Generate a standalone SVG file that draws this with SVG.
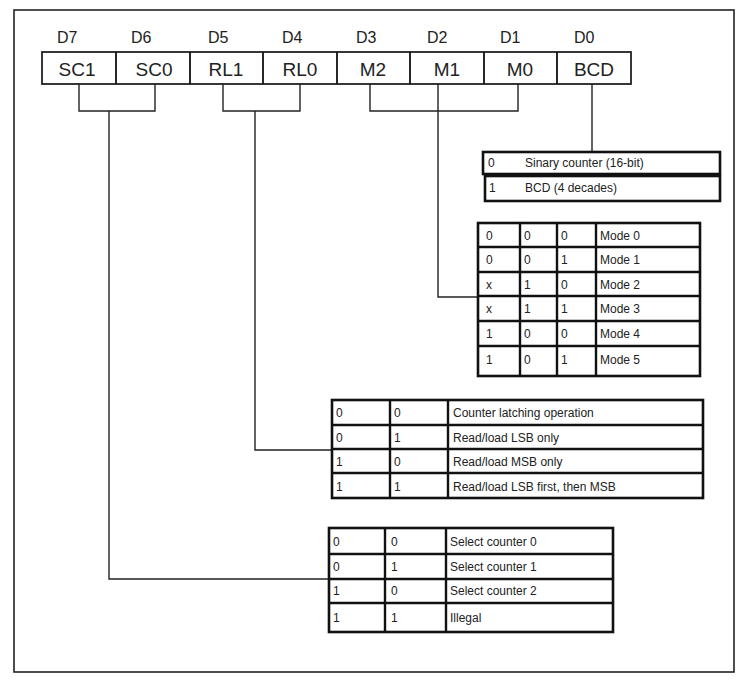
<svg xmlns="http://www.w3.org/2000/svg" width="744" height="681" viewBox="0 0 744 681">
<style>
.frame{fill:none;stroke:#222;stroke-width:1.6}
.cell{fill:#fff;stroke:#222;stroke-width:1.8}
.tb{fill:#fff;stroke:#111;stroke-width:2.6}
.tl{stroke:#111;stroke-width:2.4;fill:none}
.con{fill:none;stroke:#222;stroke-width:1.4}
.bit{font-family:"Liberation Sans",Arial,sans-serif;font-size:16px;fill:#222}
.name{font-family:"Liberation Sans",Arial,sans-serif;font-size:19px;fill:#222;text-anchor:middle}
.t{font-family:"Liberation Sans",Arial,sans-serif;font-size:12px;fill:#222}
</style>
<rect width="744" height="681" fill="#fff"/>
<rect class="frame" x="14" y="10" width="720" height="662"/>

<g id="register">
  <rect class="cell" x="42" y="52" width="589" height="32"/>
  <path class="tl" style="stroke-width:1.8" d="M116,52V84M190,52V84M263,52V84M337,52V84M410,52V84M484,52V84M557,52V84"/>
  <text class="bit" x="57" y="43">D7</text>
  <text class="bit" x="131" y="43">D6</text>
  <text class="bit" x="208" y="43">D5</text>
  <text class="bit" x="282" y="43">D4</text>
  <text class="bit" x="356" y="43">D3</text>
  <text class="bit" x="427" y="43">D2</text>
  <text class="bit" x="500" y="43">D1</text>
  <text class="bit" x="574" y="43">D0</text>
  <text class="name" x="77" y="76">SC1</text>
  <text class="name" x="154" y="76">SC0</text>
  <text class="name" x="226" y="76">RL1</text>
  <text class="name" x="300" y="76">RL0</text>
  <text class="name" x="373" y="76">M2</text>
  <text class="name" x="447" y="76">M1</text>
  <text class="name" x="520" y="76">M0</text>
  <text class="name" x="594" y="76">BCD</text>
</g>

<g id="connectors">
  <path class="con" d="M79,84V111H155V84"/>
  <path class="con" d="M109,111V579H329"/>
  <path class="con" d="M223,84V111H300V84"/>
  <path class="con" d="M255,111V450H332"/>
  <path class="con" d="M370,84V111H518V84"/>
  <path class="con" d="M438,84V297H478"/>
  <path class="con" d="M592,84V152"/>
</g>

<g id="bcd-table">
  <rect class="tb" x="483" y="152" width="237" height="22"/>
  <rect class="tb" x="485" y="176" width="235" height="25"/>
  <text class="t" x="488" y="167">0</text>
  <text class="t" x="525" y="167">Sinary counter (16-bit)</text>
  <text class="t" x="489" y="192">1</text>
  <text class="t" x="525" y="192">BCD (4 decades)</text>
</g>

<g id="mode-table">
  <rect class="tb" x="478" y="223" width="222" height="153"/>
  <path class="tl" d="M520,223V376M557,223V376M596,223V376M478,247H700M478,272H700M478,296H700M478,321H700M478,346H700"/>
  <text class="t" x="486" y="240">0</text><text class="t" x="524" y="240">0</text><text class="t" x="561" y="240">0</text><text class="t" x="600" y="240">Mode 0</text>
  <text class="t" x="486" y="264">0</text><text class="t" x="524" y="264">0</text><text class="t" x="561" y="264">1</text><text class="t" x="600" y="264">Mode 1</text>
  <text class="t" x="486" y="289">x</text><text class="t" x="524" y="289">1</text><text class="t" x="561" y="289">0</text><text class="t" x="600" y="289">Mode 2</text>
  <text class="t" x="486" y="313">x</text><text class="t" x="524" y="313">1</text><text class="t" x="561" y="313">1</text><text class="t" x="600" y="313">Mode 3</text>
  <text class="t" x="486" y="338">1</text><text class="t" x="524" y="338">0</text><text class="t" x="561" y="338">0</text><text class="t" x="600" y="338">Mode 4</text>
  <text class="t" x="486" y="364">1</text><text class="t" x="524" y="364">0</text><text class="t" x="561" y="364">1</text><text class="t" x="600" y="364">Mode 5</text>
</g>

<g id="rl-table">
  <rect class="tb" x="332" y="400" width="371" height="98"/>
  <path class="tl" d="M390,400V498M448,400V498M332,425H703M332,449H703M332,473H703"/>
  <text class="t" x="336" y="417">0</text><text class="t" x="394" y="417">0</text><text class="t" x="453" y="417">Counter latching operation</text>
  <text class="t" x="336" y="442">0</text><text class="t" x="394" y="442">1</text><text class="t" x="453" y="442">Read/load LSB only</text>
  <text class="t" x="336" y="466">1</text><text class="t" x="394" y="466">0</text><text class="t" x="453" y="466">Read/load MSB only</text>
  <text class="t" x="336" y="491">1</text><text class="t" x="394" y="491">1</text><text class="t" x="453" y="491">Read/load LSB first, then MSB</text>
</g>

<g id="sc-table">
  <rect class="tb" x="329" y="528" width="284" height="104"/>
  <path class="tl" d="M385,528V632M446,528V632M329,554H613M329,579H613M329,603H613"/>
  <text class="t" x="333" y="546">0</text><text class="t" x="391" y="546">0</text><text class="t" x="450" y="546">Select counter 0</text>
  <text class="t" x="333" y="571">0</text><text class="t" x="391" y="571">1</text><text class="t" x="450" y="571">Select counter 1</text>
  <text class="t" x="333" y="595">1</text><text class="t" x="391" y="595">0</text><text class="t" x="450" y="595">Select counter 2</text>
  <text class="t" x="333" y="622">1</text><text class="t" x="391" y="622">1</text><text class="t" x="450" y="622">Illegal</text>
</g>
</svg>
